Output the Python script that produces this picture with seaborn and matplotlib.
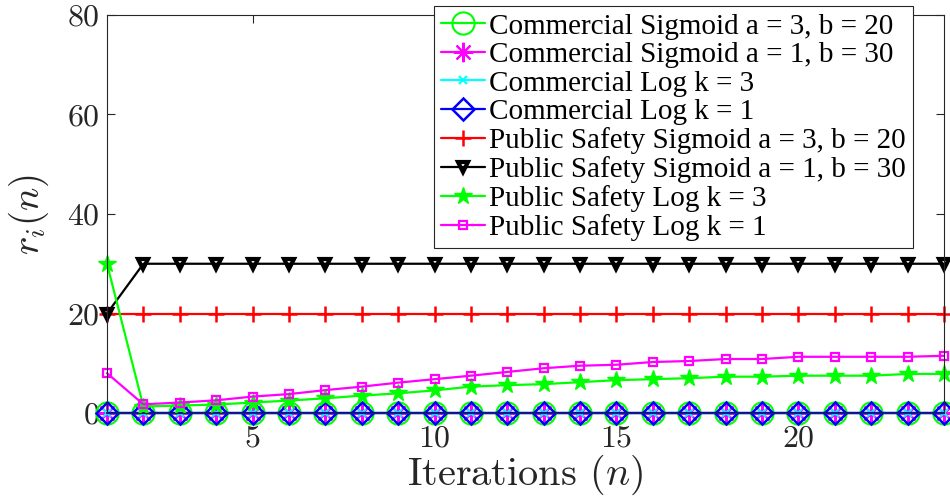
import numpy as np
import pandas as pd
import matplotlib
matplotlib.use("Agg")
import matplotlib.pyplot as plt
import seaborn as sns

# Iteration index
iterations = list(range(1, 25))

# Commercial users: allocated rate stays at zero
commercial_sig_a3_b20 = [0] * 24
commercial_sig_a1_b30 = [0] * 24
commercial_log_k3 = [0] * 24
commercial_log_k1 = [0] * 24

# Public safety users
ps_sig_a3_b20 = [20] * 24
ps_sig_a1_b30 = [20] + [30] * 23
ps_log_k3 = [30, 1.3, 1.5, 1.7, 2.1, 2.5, 2.95, 3.5, 3.95, 4.55, 5.3, 5.6,
             5.8, 6.2, 6.6, 6.8, 7.0, 7.3, 7.3, 7.5, 7.5, 7.5, 7.85, 7.85]
ps_log_k1 = [8.0, 1.75, 2.1, 2.55, 3.3, 3.8, 4.6, 5.3, 6.1, 6.8, 7.5, 8.25,
             9.0, 9.5, 9.7, 10.25, 10.45, 10.85, 10.85, 11.3, 11.3, 11.3, 11.3, 11.5]

labels = [
    "Commercial Sigmoid a = 3, b = 20",
    "Commercial Sigmoid a = 1, b = 30",
    "Commercial Log k = 3",
    "Commercial Log k = 1",
    "Public Safety Sigmoid a = 3, b = 20",
    "Public Safety Sigmoid a = 1, b = 30",
    "Public Safety Log k = 3",
    "Public Safety Log k = 1",
]
series = [commercial_sig_a3_b20, commercial_sig_a1_b30, commercial_log_k3,
          commercial_log_k1, ps_sig_a3_b20, ps_sig_a1_b30, ps_log_k3, ps_log_k1]

styles = [
    dict(color="#00ff00", marker="o", markersize=16, mfc="none", mew=1.5),
    dict(color="#ff00ff", marker=(8, 2, 0), markersize=14, mew=1.5),
    dict(color="#00ffff", marker="x", markersize=6, mew=1.5),
    dict(color="#0000ff", marker="D", markersize=11, mfc="none", mew=1.8),
    dict(color="#ff0000", marker="+", markersize=11, mew=1.8),
    dict(color="#000000", marker="v", markersize=6.5, mfc="none", mew=3.0),
    dict(color="#00ff00", marker="*", markersize=13, mew=1.0),
    dict(color="#ff00ff", marker="s", markersize=6, mfc="none", mew=1.6),
]

sns.set_style("ticks")
plt.rcParams["font.family"] = ["cmr10", "DejaVu Serif"]
plt.rcParams["mathtext.fontset"] = "cm"
plt.rcParams["axes.formatter.use_mathtext"] = True

fig = plt.figure(figsize=(9.5, 4.96), dpi=100)
ax = fig.add_axes([107 / 950, 1 - 413 / 496, (944 - 107) / 950, (413 - 15) / 496])

for vals, lab, st in zip(series, labels, styles):
    df = pd.DataFrame({"n": iterations, "r": vals})
    sns.lineplot(data=df, x="n", y="r", ax=ax, label=lab, linewidth=1.6,
                 color=st["color"], marker=st["marker"],
                 markersize=st["markersize"],
                 markerfacecolor=st.get("mfc", st["color"]),
                 markeredgecolor=st["color"],
                 markeredgewidth=st["mew"], clip_on=False)

ax.set_xlim(1, 24)
ax.set_ylim(0, 80)
ax.set_xticks([5, 10, 15, 20])
ax.set_yticks([0, 20, 40, 60, 80])

text_gray = "#262626"
ax.tick_params(direction="in", top=True, right=True, length=6, width=0.8,
               labelsize=23, colors=text_gray)
ax.tick_params(axis="x", pad=9)
ax.tick_params(axis="y", pad=5)
for s in ax.spines.values():
    s.set_color(text_gray)
    s.set_linewidth(0.8)

ax.set_xlabel(r"Iterations $(n)$", fontsize=29, color=text_gray, labelpad=0)
ax.set_ylabel(r"$r_i(n)$", fontsize=28, color=text_gray, labelpad=12)

leg = ax.legend(loc="upper right", bbox_to_anchor=(913 / 950, 1 - 6 / 496),
                bbox_transform=fig.transFigure, frameon=True, fancybox=False,
                framealpha=1, edgecolor="#262626", borderaxespad=0,
                borderpad=0.25, labelspacing=0.07, handlelength=1.5,
                handletextpad=0.15,
                prop={"family": "Liberation Serif", "size": 21})
leg.get_frame().set_linewidth(0.8)
for t in leg.get_texts():
    t.set_color("black")

fig.savefig("out.png", dpi=100)
